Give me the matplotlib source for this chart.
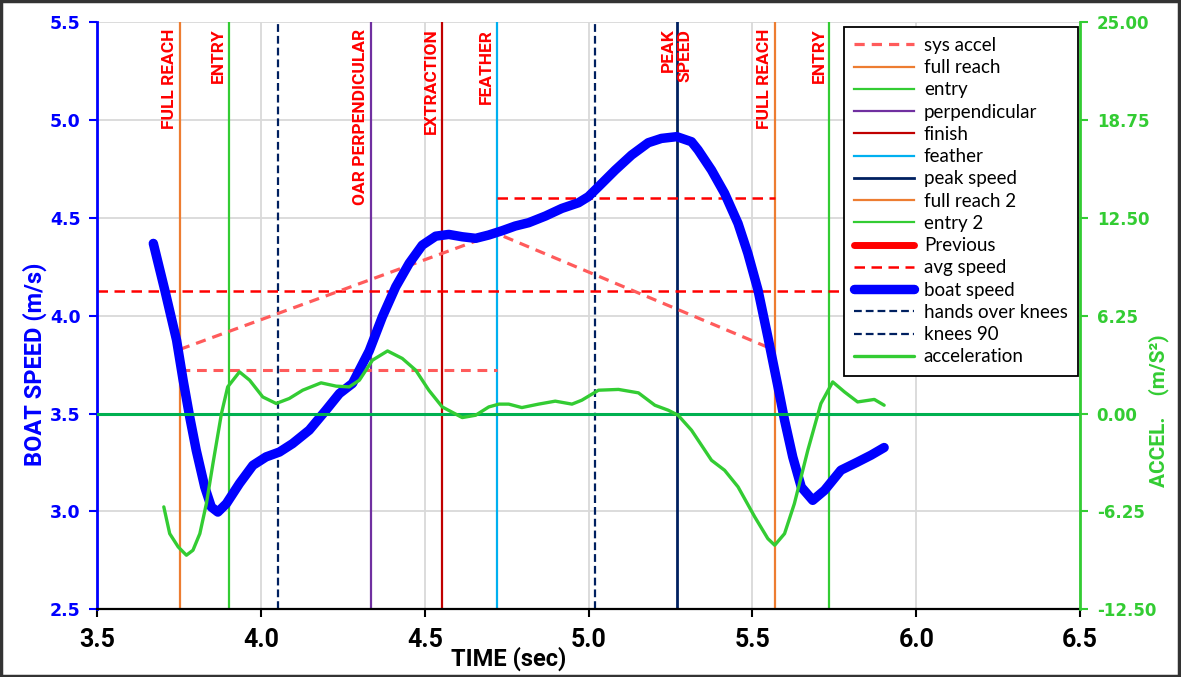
import matplotlib
matplotlib.use('Agg')
import matplotlib.pyplot as plt
from matplotlib import transforms
from matplotlib.patches import Rectangle

# ---------------- data ----------------
boat_t = [3.671, 3.706, 3.742, 3.762, 3.782, 3.802, 3.828, 3.848, 3.868, 3.894,
          3.934, 3.975, 4.015, 4.056, 4.096, 4.147, 4.198, 4.239, 4.279, 4.330,
          4.370, 4.411, 4.452, 4.492, 4.533, 4.573, 4.614, 4.655, 4.695, 4.736,
          4.776, 4.817, 4.868, 4.918, 4.969, 4.999, 5.030, 5.081, 5.131, 5.182,
          5.222, 5.269, 5.314, 5.334, 5.375, 5.415, 5.456, 5.486, 5.517, 5.547,
          5.578, 5.598, 5.623, 5.649, 5.684, 5.720, 5.770, 5.821, 5.862, 5.902]
boat_v = [4.370, 4.131, 3.875, 3.670, 3.483, 3.312, 3.124, 3.022, 2.996, 3.039,
          3.142, 3.235, 3.278, 3.303, 3.346, 3.415, 3.517, 3.602, 3.654, 3.820,
          3.994, 4.148, 4.268, 4.361, 4.407, 4.416, 4.404, 4.396, 4.413, 4.435,
          4.459, 4.476, 4.510, 4.549, 4.578, 4.609, 4.660, 4.745, 4.822, 4.885,
          4.907, 4.916, 4.890, 4.848, 4.745, 4.626, 4.472, 4.319, 4.131, 3.892,
          3.636, 3.466, 3.278, 3.124, 3.056, 3.107, 3.210, 3.252, 3.287, 3.326]

accel_t = [3.703, 3.721, 3.747, 3.772, 3.792, 3.813, 3.833, 3.853, 3.879, 3.898,
           3.934, 3.965, 4.005, 4.046, 4.086, 4.127, 4.183, 4.229, 4.269, 4.300,
           4.340, 4.386, 4.431, 4.472, 4.512, 4.553, 4.614, 4.655, 4.695, 4.726,
           4.756, 4.796, 4.847, 4.898, 4.949, 4.979, 5.030, 5.091, 5.152, 5.202,
           5.243, 5.273, 5.314, 5.375, 5.415, 5.456, 5.507, 5.547, 5.568, 5.598,
           5.628, 5.669, 5.709, 5.745, 5.781, 5.821, 5.872, 5.902]
accel_a = [-5.97, -7.68, -8.53, -9.06, -8.74, -7.68, -5.76, -3.20, 0.00, 1.70,
           2.66, 2.13, 1.06, 0.64, 0.96, 1.49, 1.96, 1.75, 1.70, 2.13,
           3.41, 4.00, 3.52, 2.77, 1.49, 0.42, -0.26, -0.11, 0.42, 0.60,
           0.60, 0.38, 0.60, 0.79, 0.60, 0.85, 1.49, 1.54, 1.32, 0.53,
           0.21, -0.11, -1.07, -2.99, -3.63, -4.69, -6.61, -8.00, -8.42, -7.68,
           -5.76, -2.35, 0.64, 2.02, 1.38, 0.74, 0.90, 0.53]

# stroke events (time, s)
full_reach = 3.752
entry = 3.902
hands_over_knees = 4.052
perpendicular = 4.335
finish = 4.553
feather = 4.719
knees_90 = 5.019
peak_speed = 5.269
full_reach_2 = 5.568
entry_2 = 5.735

avg_speed = 4.126
sys_accel_t = [full_reach, feather, full_reach_2]
sys_accel_v = [3.828, 4.421, 3.824]
drive_level = 3.725      # level from full reach to feather
recovery_level = 4.600   # level from feather to full reach 2

event_labels = [(full_reach, 'FULL REACH'), (entry, 'ENTRY'),
                (perpendicular, 'OAR PERPENDICULAR'), (finish, 'EXTRACTION'),
                (feather, 'FEATHER'), (full_reach_2, 'FULL REACH'), (entry_2, 'ENTRY')]
peak_label = 'PEAK\nSPEED'

x_ticks = [3.5, 4.0, 4.5, 5.0, 5.5, 6.0, 6.5]
y_ticks = [2.5, 3.0, 3.5, 4.0, 4.5, 5.0, 5.5]
a_ticks = [-12.5, -6.25, 0.0, 6.25, 12.5, 18.75, 25.0]

# ---------------- style ----------------
NARROW = ['Roboto', 'DejaVu Sans']
BLUE = '#0000FF'
GREEN = '#33CC33'
ZERO_GREEN = '#00B050'
ORANGE = '#ED7D31'
PURPLE = '#7030A0'
DARKRED = '#C00000'
CYAN = '#00B0F0'
NAVY = '#002060'
RED = '#FF0000'
PINK = '#FF5B5B'

fig = plt.figure(figsize=(11.81, 6.77), dpi=100)
fig.patch.set_facecolor('white')
ax = fig.add_axes([0.0824, 0.1004, 0.8321, 0.8664])
ax2 = ax.twinx()

ax.set_xlim(3.5, 6.5)
ax.set_ylim(2.5, 5.5)
ax2.set_ylim(-12.5, 25)

ax.set_axisbelow(True)
ax.grid(True, color='#D9D9D9', lw=1.3)

# event lines
ev = []
ev.append(ax.axvline(full_reach, color=ORANGE, lw=1.6, label='full reach'))
ev.append(ax.axvline(entry, color=GREEN, lw=1.6, label='entry'))
ev.append(ax.axvline(perpendicular, color=PURPLE, lw=1.6, label='perpendicular'))
ev.append(ax.axvline(finish, color=DARKRED, lw=1.6, label='finish'))
ev.append(ax.axvline(feather, color=CYAN, lw=1.6, label='feather'))
ev.append(ax.axvline(peak_speed, color=NAVY, lw=2.0, label='peak speed'))
ev.append(ax.axvline(full_reach_2, color=ORANGE, lw=1.6, label='full reach 2'))
ev.append(ax.axvline(entry_2, color=GREEN, lw=1.6, label='entry 2'))
hok = ax.axvline(hands_over_knees, color=NAVY, lw=1.6, dashes=(3.5, 1.8),
                 label='hands over knees')
k90 = ax.axvline(knees_90, color=NAVY, lw=1.6, dashes=(3.5, 1.8), label='knees 90')

# avg / sys accel dashed lines
avg, = ax.plot([3.5, 6.5], [avg_speed, avg_speed], color=RED, lw=1.8,
               dashes=(4.2, 2.6), label='avg speed')
ax.plot([full_reach, feather], [drive_level, drive_level], color=PINK, lw=2.2,
        dashes=(3.2, 2.2))
ax.plot([feather, full_reach_2], [recovery_level, recovery_level], color=RED, lw=1.8,
        dashes=(4.2, 2.6))
sysacc, = ax.plot(sys_accel_t, sys_accel_v, color=PINK, lw=2.3, dashes=(3.2, 2.2),
                  label='sys accel')
prev, = ax.plot([], [], color=RED, lw=5, solid_capstyle='round', label='Previous')

boat, = ax.plot(boat_t, boat_v, color=BLUE, lw=6.8, solid_capstyle='round',
                solid_joinstyle='round', label='boat speed', zorder=5)

# acceleration (secondary axis)
ax2.axhline(0, color=ZERO_GREEN, lw=2.2, zorder=1)
acc, = ax2.plot(accel_t, accel_a, color=GREEN, lw=2.4, solid_joinstyle='round',
                solid_capstyle='round', label='acceleration', zorder=3)

# event text labels
off = transforms.offset_copy(ax.transData, fig=fig, x=-3, y=0, units='dots')
for t, lab in event_labels:
    ax.text(t, 5.468, lab, transform=off, rotation=90, ha='right', va='top',
            color=RED, fontsize=12.5, fontweight='bold', family=NARROW)
ax.text(peak_speed, 5.468, peak_label, rotation=90, ha='center', va='top',
        multialignment='right', color=RED, fontsize=12.5, fontweight='bold',
        family=NARROW, linespacing=1.15)

# axes styling
for a in (ax, ax2):
    a.spines['top'].set_visible(False)
ax.spines['left'].set_color(BLUE)
ax.spines['left'].set_linewidth(2)
ax.spines['right'].set_visible(False)
ax2.spines['left'].set_visible(False)
ax2.spines['right'].set_color(GREEN)
ax2.spines['right'].set_linewidth(2)
ax.spines['bottom'].set_color('black')
ax.spines['bottom'].set_linewidth(1.6)
ax2.spines['bottom'].set_visible(False)

ax.set_xticks(x_ticks)
ax.set_xticklabels([f'{v:.1f}' for v in x_ticks])
ax.set_yticks(y_ticks)
ax.set_yticklabels([f'{v:.1f}' for v in y_ticks])
ax2.set_yticks(a_ticks)
ax2.set_yticklabels([f'{v:.2f}' for v in a_ticks])

ax.tick_params(axis='y', colors=BLUE, length=6, width=1.5, pad=6)
ax.tick_params(axis='x', colors='black', length=6, width=1.5, pad=8)
ax2.tick_params(axis='y', colors=GREEN, length=6, width=1.5, pad=6)
for lab in ax.get_yticklabels():
    lab.set_fontweight('bold'); lab.set_fontsize(12.5); lab.set_family('DejaVu Sans')
for lab in ax2.get_yticklabels():
    lab.set_fontweight('bold'); lab.set_fontsize(12); lab.set_family('DejaVu Sans')
for lab in ax.get_xticklabels():
    lab.set_fontweight('bold'); lab.set_fontsize(18); lab.set_family(NARROW)

fig.text(509 / 1181, 1 - 659 / 677, 'TIME (sec)', ha='center', va='center',
         fontsize=17, fontweight='bold', family=NARROW)
fig.text(35 / 1181, 1 - 364 / 677, 'BOAT SPEED (m/s)', rotation=90, ha='center',
         va='center', fontsize=17, fontweight='bold', color=BLUE, family=NARROW)
fig.text(1159 / 1181, 1 - 411 / 677, 'ACCEL.    (m/S\u00b2)', rotation=90, ha='center',
         va='center', fontsize=15, fontweight='bold', color=GREEN, family=NARROW)

handles = [sysacc, ev[0], ev[1], ev[2], ev[3], ev[4], ev[5], ev[6], ev[7],
           prev, avg, boat, hok, k90, acc]
labels = [h.get_label() for h in handles]
leg = ax2.legend(handles, labels, loc='upper right', bbox_to_anchor=(0.998, 0.993),
                 borderaxespad=0, frameon=True, fancybox=False, framealpha=1,
                 edgecolor='black', handlelength=3.2, labelspacing=0.28,
                 handletextpad=0.5, borderpad=0.55,
                 prop={'family': 'Lato', 'size': 13.5})
leg.get_frame().set_linewidth(1.3)
leg.set_zorder(20)

fig.patches.append(Rectangle((0.001, 0.002), 0.997, 0.996, transform=fig.transFigure,
                             fill=False, edgecolor='#333333', lw=2.5))

fig.savefig('out.png', dpi=100)
